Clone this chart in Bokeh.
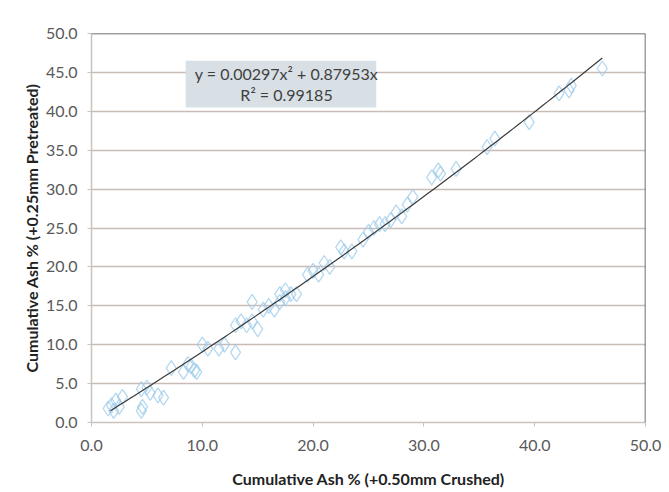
import numpy as np
from bokeh.plotting import figure
from bokeh.models import Span, Label, BoxAnnotation, FixedTicker, ColumnDataSource, CustomJSTickFormatter
from bokeh.embed import file_html
from bokeh.resources import INLINE

# Data
crushed = [1.5, 1.8, 2.0, 2.2, 2.5, 2.8, 4.5, 4.6, 4.5, 5.0, 5.3, 6.0, 6.5,
           7.2, 8.3, 8.7, 9.0, 9.3, 9.5, 10.0, 10.5, 11.5, 12.0, 13.0, 13.0,
           13.5, 14.0, 14.5, 14.5, 15.0, 15.5, 16.0, 16.5, 17.0, 17.0, 17.5,
           17.5, 18.0, 18.5, 19.5, 20.0, 20.5, 21.0, 21.5, 22.5, 22.8, 23.5,
           24.5, 25.0, 25.5, 26.0, 26.5, 27.0, 27.5, 28.0, 28.5, 29.0, 30.7,
           31.3, 31.5, 32.9, 35.7, 36.4, 39.5, 42.2, 43.1, 43.3, 46.1]
pretreated = [1.8, 2.2, 1.5, 2.8, 2.0, 3.3, 1.5, 2.0, 4.3, 4.5, 3.8, 3.5, 3.2,
              7.0, 6.5, 7.5, 7.2, 6.7, 6.5, 10.0, 9.5, 9.5, 10.0, 9.0, 12.5,
              13.0, 12.5, 15.5, 13.0, 12.0, 14.5, 15.0, 14.5, 16.5, 15.5, 17.0,
              16.0, 16.5, 16.5, 19.0, 19.5, 19.0, 20.5, 20.0, 22.5, 22.0, 22.0,
              23.5, 24.5, 25.0, 25.5, 25.5, 26.0, 27.0, 26.5, 28.0, 29.0, 31.5,
              32.4, 32.0, 32.6, 35.4, 36.5, 38.6, 42.3, 42.7, 43.3, 45.5]
coef_a = 0.00297
coef_b = 0.87953
trend_range = [1.7, 46.1]
ticks = [0, 10, 20, 30, 40, 50]
yticks = [0, 5, 10, 15, 20, 25, 30, 35, 40, 45, 50]
eq_lines = ["y = 0.00297x\u00b2 + 0.87953x", "R\u00b2 = 0.99185"]

FONT = "Lato"

p = figure(width=669, height=492, x_range=(0, 50), y_range=(0, 50),
           output_backend="svg", toolbar_location=None,
           min_border_left=91, min_border_right=24, min_border_top=33,
           min_border_bottom=70)
p.outline_line_color = None
p.background_fill_color = "white"
p.border_fill_color = "white"

p.xgrid.grid_line_color = None
p.ygrid.grid_line_color = "#c9bcb6"
p.ygrid.grid_line_width = 1.5
p.xaxis.ticker = FixedTicker(ticks=ticks)
p.yaxis.ticker = FixedTicker(ticks=yticks)
p.xaxis.formatter = CustomJSTickFormatter(code="return tick.toFixed(1);")
p.yaxis.formatter = CustomJSTickFormatter(code="return tick.toFixed(1);")

for ax in (p.xaxis[0], p.yaxis[0]):
    ax.axis_line_color = "#c9c3c0"
    ax.axis_line_width = 1.5
    ax.major_tick_line_color = "#c9c3c0"
    ax.major_tick_out = 4
    ax.major_tick_in = 0
    ax.minor_tick_line_color = None
    ax.major_label_text_font = FONT
    ax.major_label_text_font_size = "16px"
    ax.major_label_text_color = "#595959"
    ax.axis_label_text_font = FONT
    ax.axis_label_text_font_size = "16px"
    ax.axis_label_text_font_style = "bold"
    ax.axis_label_text_color = "#222222"

p.xaxis.axis_label = "Cumulative Ash % (+0.50mm Crushed)"
p.yaxis.axis_label = "Cumulative Ash % (+0.25mm Pretreated)"
p.xaxis.major_label_standoff = 13
p.xaxis.axis_label_standoff = 15
p.yaxis.major_label_standoff = 10
p.yaxis.axis_label_standoff = 2

# dark top/right border
p.add_layout(Span(location=50, dimension="width", line_color="#404040", line_width=1.5))
p.add_layout(Span(location=50, dimension="height", line_color="#404040", line_width=1.5))

src = ColumnDataSource(dict(x=crushed, y=pretreated))
p.scatter("x", "y", source=src, marker="diamond", size=15, fill_color=None,
          line_color="#9ccbea", line_width=1.3, line_alpha=0.75)

xs = np.linspace(trend_range[0], trend_range[1], 100)
p.line(xs, coef_a * xs ** 2 + coef_b * xs, line_color="#3a3a3a", line_width=1.2)

p.add_layout(BoxAnnotation(left=8.5, right=25.7, bottom=40.5, top=46.5,
                           fill_color="#d8e0e6", fill_alpha=1.0, line_color=None))
p.add_layout(Label(x=17.6, y=44.8, text=eq_lines[0], text_align="center",
                   text_baseline="middle", text_font=FONT, text_font_size="16px",
                   text_color="#404040"))
p.add_layout(Label(x=17.6, y=42.1, text=eq_lines[1], text_align="center",
                   text_baseline="middle", text_font=FONT, text_font_size="16px",
                   text_color="#404040"))

open("out.html", "w").write(file_html(p, INLINE))
